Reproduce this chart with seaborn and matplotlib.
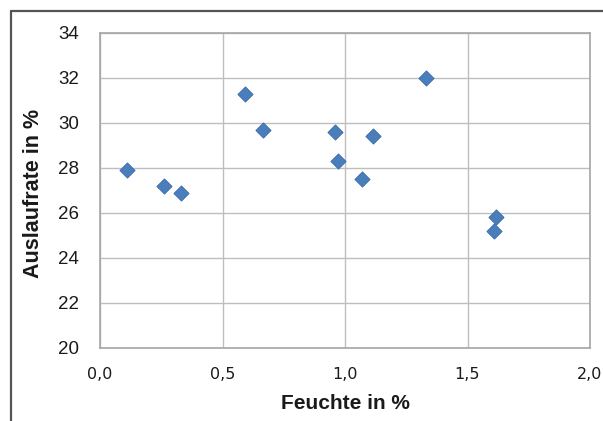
import matplotlib
matplotlib.use("Agg")
import matplotlib.pyplot as plt
from matplotlib.lines import Line2D
from matplotlib.ticker import FuncFormatter
import pandas as pd
import seaborn as sns

# Moisture (%) and flow rate (%) measurements
feuchte = [0.11, 0.26, 0.33, 0.59, 0.665, 0.96, 0.97, 1.07, 1.115, 1.33, 1.615, 1.61]
auslaufrate = [27.9, 27.2, 26.9, 31.3, 29.7, 29.6, 28.3, 27.5, 29.4, 32.0, 25.8, 25.2]

x_ticks = [0.0, 0.5, 1.0, 1.5, 2.0]
y_ticks = [20, 22, 24, 26, 28, 30, 32, 34]

df = pd.DataFrame({"Feuchte": feuchte, "Auslaufrate": auslaufrate})

sns.set_style("white")
plt.rcParams["font.family"] = ["Liberation Sans", "DejaVu Sans"]

fig = plt.figure(figsize=(6.03, 4.21), dpi=100)
ax = fig.add_axes([100 / 603, 1 - 348 / 421, 490 / 603, 315 / 421])

sns.scatterplot(data=df, x="Feuchte", y="Auslaufrate", ax=ax, marker="D",
                s=60, color="#4A7EBB", edgecolor="#3B6AA8", linewidth=0.6,
                zorder=3)

ax.set_xlim(0, 2)
ax.set_ylim(20, 34)
ax.set_xticks(x_ticks)
ax.set_yticks(y_ticks)
ax.xaxis.set_major_formatter(FuncFormatter(lambda v, p: f"{v:.1f}".replace(".", ",")))
ax.yaxis.set_major_formatter(FuncFormatter(lambda v, p: f"{v:.0f}"))

grid_c = "#BEBEBE"
ax.grid(True, color=grid_c, linewidth=1.0, zorder=0)
for side in ["left", "bottom", "right", "top"]:
    ax.spines[side].set_visible(True)
    ax.spines[side].set_color("#A6A6A6")
    ax.spines[side].set_linewidth(1.2)

ax.tick_params(axis="both", which="major", direction="out", length=5,
               width=1.0, color="#A6A6A6", labelsize=13.5, labelcolor="#1a1a1a")
ax.tick_params(axis="y", pad=10)
ax.tick_params(axis="x", pad=9)
for lbl in ax.get_xticklabels():
    lbl.set_family(["DejaVu Sans"])
    lbl.set_fontsize(11.5)

ax.set_xlabel("Feuchte in %", fontsize=15, fontweight="bold", color="#1a1a1a",
              labelpad=8)
ax.set_ylabel("Auslaufrate in %", fontsize=15.5, fontweight="bold", color="#1a1a1a")
ax.yaxis.set_label_coords(-0.1134, 0.49)

# Outer chart border (top and left edges)
fig.add_artist(Line2D([11 / 603, 1.0], [1 - 11 / 421, 1 - 11 / 421],
                      transform=fig.transFigure, color="#555555", linewidth=1.6))
fig.add_artist(Line2D([11 / 603, 11 / 603], [0.0, 1 - 11 / 421],
                      transform=fig.transFigure, color="#555555", linewidth=1.6))

fig.savefig("out.png", dpi=100)
